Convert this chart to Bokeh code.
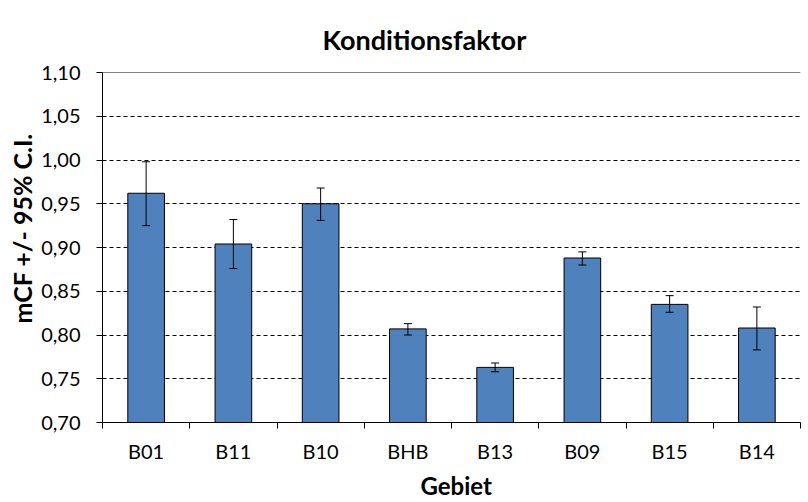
import numpy as np
from bokeh.plotting import figure
from bokeh.models import (Range1d, FixedTicker, CustomJSTickFormatter, Whisker, TeeHead,
                          ColumnDataSource, Title, Span)
from bokeh.embed import file_html
from bokeh.resources import INLINE

categories = ["B01", "B11", "B10", "BHB", "B13", "B09", "B15", "B14"]
mcf = [0.962, 0.904, 0.950, 0.807, 0.763, 0.888, 0.835, 0.808]
ci_upper = [0.998, 0.932, 0.968, 0.813, 0.768, 0.895, 0.845, 0.832]
ci_lower = [0.925, 0.876, 0.931, 0.800, 0.758, 0.880, 0.826, 0.783]
y_ticks = [0.70, 0.75, 0.80, 0.85, 0.90, 0.95, 1.00, 1.05, 1.10]

FONT = "Lato"

x = [i + 0.5 for i in range(len(categories))]
src = ColumnDataSource(dict(x=x, top=mcf, upper=ci_upper, lower=ci_lower, cat=categories))

p = figure(width=808, height=502, output_backend="svg", toolbar_location=None,
           x_range=Range1d(0, len(categories)), y_range=Range1d(y_ticks[0], y_ticks[-1]),
           min_border_left=102, min_border_right=8, min_border_top=72, min_border_bottom=77)
p.outline_line_color = None
p.background_fill_color = "white"
p.border_fill_color = "white"

p.vbar(x="x", top="top", bottom=y_ticks[0], width=0.42, source=src,
       fill_color="#4F81BD", line_color="black", line_width=1)

w = Whisker(base="x", upper="upper", lower="lower", source=src,
            line_color="black", line_width=1, level="overlay",
            upper_head=TeeHead(size=8, line_color="black", line_width=1),
            lower_head=TeeHead(size=8, line_color="black", line_width=1))
p.add_layout(w)

p.add_layout(Span(location=y_ticks[-1], dimension="width", line_color="black", line_width=1))

# grid
p.xgrid.visible = False
p.ygrid.ticker = FixedTicker(ticks=y_ticks)
p.ygrid.grid_line_color = "black"
p.ygrid.grid_line_dash = "4 3"
p.ygrid.grid_line_width = 1

# y axis
p.yaxis.ticker = FixedTicker(ticks=y_ticks)
p.yaxis.formatter = CustomJSTickFormatter(code="return tick.toFixed(2).replace('.', ',');")
p.yaxis.major_tick_out = 6
p.yaxis.major_tick_in = 0
p.yaxis.minor_tick_out = 0
p.yaxis.minor_tick_in = 0
p.yaxis.axis_line_color = "black"
p.yaxis.major_tick_line_color = "black"
p.yaxis.major_label_text_font = FONT
p.yaxis.major_label_text_font_size = "20px"
p.yaxis.major_label_text_color = "black"
p.yaxis.major_label_standoff = 16

# x axis
p.xaxis.ticker = FixedTicker(ticks=x, minor_ticks=list(range(len(categories) + 1)))
p.xaxis.major_label_overrides = {xi: c for xi, c in zip(x, categories)}
p.xaxis.major_tick_out = 0
p.xaxis.major_tick_in = 0
p.xaxis.minor_tick_out = 6
p.xaxis.minor_tick_in = 0
p.xaxis.minor_tick_line_color = "black"
p.xaxis.axis_line_color = "black"
p.xaxis.major_label_text_font = FONT
p.xaxis.major_label_text_font_size = "20px"
p.xaxis.major_label_text_color = "black"
p.xaxis.major_label_standoff = 10

# titles
p.title.text = "Konditionsfaktor"
p.title.text_font = FONT
p.title.text_font_size = "27px"
p.title.text_font_style = "bold"
p.title.text_color = "black"
p.title.align = "left"
p.title.vertical_align = "bottom"
p.title.offset = 220
p.title.standoff = 34

p.add_layout(Title(text="mCF +/- 95% C.I.", text_font=FONT, text_font_size="25px",
                   text_font_style="bold", text_color="black", align="left", offset=99,
                   standoff=3), "left")
p.add_layout(Title(text="Gebiet", text_font=FONT, text_font_size="24px",
                   text_font_style="bold", text_color="black", align="left", offset=318,
                   standoff=6), "below")

open("out.html", "w").write(file_html(p, INLINE))
